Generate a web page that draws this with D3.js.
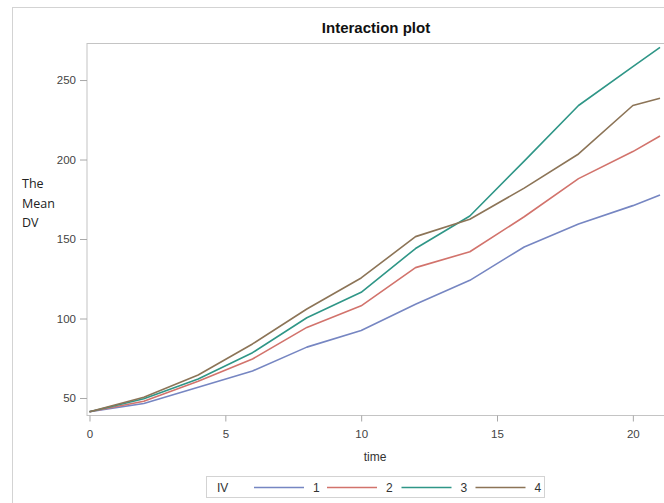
<!DOCTYPE html>
<html>
<head>
<meta charset="utf-8">
<script src="https://cdn.jsdelivr.net/npm/d3@7"></script>
<style>
  body { margin: 0; background: #fff; }
  svg { display: block; }
</style>
</head>
<body>
<div id="chart"></div>
<script>
// time points and mean DV for each IV group
var times = [0, 2, 4, 6, 8, 10, 12, 14, 16, 18, 20, 21];
var iv1 = [41.4, 46.5, 56.7, 67, 82, 92.5, 109, 124, 145, 159.5, 171, 177.7];
var iv2 = [41.4, 48, 60.5, 74.5, 94.4, 108, 132, 142, 164, 188, 205, 214.8];
var iv3 = [41.4, 49.5, 62, 78.5, 100.5, 116.5, 144, 164.5, 199, 234, 258.5, 270.6];
var iv4 = [41.4, 50.5, 64.5, 84, 106, 125.5, 151.5, 162.4, 182, 203.5, 234, 238.5];
var groups = ["1", "2", "3", "4"];
var xTicks = [0, 5, 10, 15, 20];
var yTicks = [50, 100, 150, 200, 250];

var series = [iv1, iv2, iv3, iv4].map(function(vals, i) {
  return { key: groups[i], values: vals.map(function(v, j) { return { t: times[j], v: v }; }) };
});

var W = 664, H = 503;
var margin = {top: 43, right: -2, bottom: 88, left: 86.5},
    width = W - margin.left - margin.right,
    height = H - margin.top - margin.bottom;

var svg = d3.select("#chart").append("svg")
  .attr("width", W)
  .attr("height", H);

// outer frame
svg.append("rect")
  .attr("x", 12.5).attr("y", 7.5)
  .attr("width", W).attr("height", H)
  .attr("fill", "none").attr("stroke", "#d3d3d3");

var g = svg.append("g")
  .attr("transform", "translate(" + margin.left + "," + margin.top + ")");

var x = d3.scaleLinear().domain([-0.11, 21.22]).range([0, width]);
var y = d3.scaleLinear().domain([39.3, 273.3]).range([height, 0]);

var color = d3.scaleOrdinal()
  .domain(groups)
  .range(["#7686c2", "#d2736c", "#2f9687", "#8c7457"]);

// plot frame
g.append("rect")
  .attr("x", 0.5).attr("y", 0.5)
  .attr("width", width).attr("height", height)
  .attr("fill", "none").attr("stroke", "#c4c4c4");

var xAxis = g.append("g")
  .attr("transform", "translate(0," + (height + 0.5) + ")")
  .call(d3.axisBottom(x).tickValues(xTicks).tickSize(6).tickPadding(8));

var yAxis = g.append("g")
  .attr("transform", "translate(0.5,0)")
  .call(d3.axisLeft(y).tickValues(yTicks).tickSize(7).tickPadding(4));

[xAxis, yAxis].forEach(function(a) {
  a.select(".domain").remove();
  a.selectAll("line").attr("stroke", "#a8a8a8");
  a.selectAll("text")
    .attr("fill", "#444")
    .style("font-family", "'Liberation Sans', Arial, sans-serif")
    .style("font-size", "11.5px");
});

var line = d3.line()
  .x(function(d) { return x(d.t); })
  .y(function(d) { return y(d.v); });

g.selectAll(".serie")
  .data(series)
  .enter().append("path")
  .attr("class", "serie")
  .attr("d", function(d) { return line(d.values); })
  .attr("fill", "none")
  .attr("stroke", function(d) { return color(d.key); })
  .attr("stroke-width", 1.6)
  .attr("stroke-linejoin", "round");

// title
svg.append("text")
  .attr("x", 376).attr("y", 33)
  .attr("text-anchor", "middle")
  .style("font-family", "'Liberation Sans', Arial, sans-serif")
  .style("font-weight", "bold")
  .style("font-size", "15px")
  .attr("fill", "#111")
  .text("Interaction plot");

// x label
svg.append("text")
  .attr("x", 375).attr("y", 461)
  .attr("text-anchor", "middle")
  .style("font-family", "'Liberation Sans', Arial, sans-serif")
  .style("font-size", "12px")
  .attr("fill", "#333")
  .text("time");

// y label (three lines)
var ylab = svg.append("text")
  .style("font-family", "'Open Sans', sans-serif")
  .style("font-size", "12.5px")
  .attr("fill", "#222");
["The", "Mean", "DV"].forEach(function(w, i) {
  ylab.append("tspan").attr("x", 22).attr("y", 188 + i * 19.5).text(w);
});

// legend
var legend = svg.append("g");
legend.append("rect")
  .attr("x", 206.5).attr("y", 476.5)
  .attr("width", 338).attr("height", 21)
  .attr("fill", "none").attr("stroke", "#d3d3d3");

legend.append("text")
  .attr("x", 217).attr("y", 491.5)
  .style("font-family", "'Liberation Sans', Arial, sans-serif")
  .style("font-size", "12px")
  .attr("fill", "#333")
  .text("IV");

var lx = d3.scaleOrdinal().domain(groups).range([254, 327, 401.5, 475.5]);

legend.selectAll("legline")
  .data(groups)
  .enter().append("line")
  .attr("x1", function(d) { return lx(d); })
  .attr("x2", function(d) { return lx(d) + 50; })
  .attr("y1", 487.5).attr("y2", 487.5)
  .attr("stroke", function(d) { return color(d); })
  .attr("stroke-width", 1.6);

legend.selectAll("leglabel")
  .data(groups)
  .enter().append("text")
  .attr("x", function(d) { return lx(d) + 59; })
  .attr("y", 491.5)
  .style("font-family", "'Liberation Sans', Arial, sans-serif")
  .style("font-size", "12px")
  .attr("fill", "#333")
  .text(function(d) { return d; });
</script>
</body>
</html>
